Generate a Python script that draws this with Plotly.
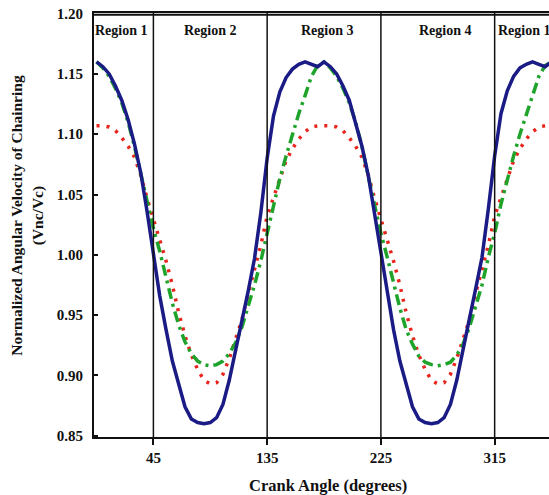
import plotly.graph_objects as go

# Crank angle (degrees), sampled every 5 degrees
angle = list(range(0, 365, 5))

# Normalized angular velocity of chainring (Vnc/Vc)
blue_vals = [
    1.160, 1.156, 1.150, 1.140, 1.128, 1.112, 1.092, 1.068, 1.036, 1.002,
    0.966, 0.938, 0.912, 0.893, 0.874, 0.864, 0.861, 0.860, 0.861, 0.865,
    0.876, 0.896, 0.920, 0.945, 0.970, 0.997, 1.035, 1.080, 1.115, 1.135,
    1.147, 1.154, 1.158, 1.160, 1.158, 1.156, 1.160, 1.156, 1.150, 1.140,
    1.128, 1.110, 1.090, 1.066, 1.034, 1.002, 0.966, 0.938, 0.912, 0.893,
    0.874, 0.864, 0.861, 0.860, 0.861, 0.865, 0.876, 0.896, 0.920, 0.947,
    0.972, 0.998, 1.038, 1.082, 1.117, 1.136, 1.148, 1.155, 1.158, 1.160,
    1.158, 1.156, 1.160,
]
green_vals = [
    1.160, 1.155, 1.148, 1.138, 1.126, 1.110, 1.090, 1.067, 1.043, 1.022,
    1.003, 0.980, 0.960, 0.942, 0.928, 0.918, 0.912, 0.909, 0.908, 0.909,
    0.912, 0.918, 0.927, 0.940, 0.957, 0.975, 0.995, 1.018, 1.042, 1.063,
    1.082, 1.100, 1.117, 1.132, 1.148, 1.157, 1.160, 1.155, 1.148, 1.138,
    1.126, 1.110, 1.090, 1.065, 1.040, 1.018, 0.998, 0.976, 0.956, 0.938,
    0.926, 0.916, 0.911, 0.909, 0.908, 0.909, 0.911, 0.917, 0.926, 0.940,
    0.957, 0.975, 0.998, 1.018, 1.042, 1.063, 1.082, 1.100, 1.117, 1.132,
    1.148, 1.157, 1.160,
]
red_vals = [
    1.107, 1.107, 1.106, 1.103, 1.097, 1.090, 1.081, 1.066, 1.047, 1.030,
    1.011, 0.995, 0.975, 0.952, 0.933, 0.917, 0.905, 0.896, 0.893, 0.894,
    0.901, 0.914, 0.930, 0.946, 0.968, 0.988, 1.008, 1.032, 1.048, 1.062,
    1.078, 1.088, 1.096, 1.102, 1.106, 1.107, 1.107, 1.107, 1.106, 1.103,
    1.097, 1.090, 1.081, 1.066, 1.047, 1.030, 1.011, 0.995, 0.975, 0.952,
    0.933, 0.917, 0.905, 0.896, 0.893, 0.894, 0.901, 0.914, 0.930, 0.946,
    0.968, 0.988, 1.008, 1.032, 1.048, 1.062, 1.078, 1.088, 1.096, 1.102,
    1.106, 1.107, 1.107,
]

region_bounds = [45, 135, 225, 315]
region_names = ["Region 1", "Region 2", "Region 3", "Region 4", "Region 1"]
region_label_x = [20, 90, 183, 276, 339]
y_ticks = [0.85, 0.90, 0.95, 1.00, 1.05, 1.10, 1.15, 1.20]

FONT = "Liberation Serif, Times New Roman, serif"
BLACK = "#111111"

fig = go.Figure()
fig.add_trace(go.Scatter(x=angle, y=red_vals, mode="lines",
                         line=dict(color="#e8251c", width=3.5, dash="3px,7px")))
fig.add_trace(go.Scatter(x=angle, y=green_vals, mode="lines",
                         line=dict(color="#1fa32a", width=3.5, dash="11px,5px,3px,5px")))
fig.add_trace(go.Scatter(x=angle, y=blue_vals, mode="lines",
                         line=dict(color="#1b1b86", width=3.5)))

for b in region_bounds:
    fig.add_shape(type="line", x0=b, x1=b, y0=0, y1=1, xref="x", yref="paper",
                  line=dict(color=BLACK, width=1.5))
# top frame line
fig.add_shape(type="line", x0=0, x1=1, y0=1.199, y1=1.199, xref="paper", yref="y",
              layer="above", line=dict(color=BLACK, width=2))

for name, xpos in zip(region_names, region_label_x):
    fig.add_annotation(x=xpos, y=1.186, text=name, showarrow=False,
                       font=dict(family=FONT, size=14, color=BLACK, weight="bold"))

# axis titles placed by hand
fig.add_annotation(xref="paper", yref="paper", x=0.514, y=-0.115,
                   xanchor="center", yanchor="middle",
                   text="Crank Angle (degrees)", showarrow=False,
                   font=dict(family=FONT, size=16.5, color=BLACK, weight="bold"))
fig.add_annotation(xref="paper", yref="paper", x=-0.147, y=0.522, textangle=-90,
                   xanchor="center", yanchor="middle",
                   text="Normalized Angular Velocity of Chainring<br>(Vnc/Vc)",
                   showarrow=False,
                   font=dict(family=FONT, size=15.5, color=BLACK, weight="bold"))

fig.update_layout(
    width=549, height=495,
    margin=dict(l=94, r=0, t=13, b=58),
    paper_bgcolor="white", plot_bgcolor="white",
    showlegend=False,
    font=dict(family=FONT, color=BLACK),
    xaxis=dict(
        range=[-2, 358], tickvals=region_bounds, ticks="outside", ticklen=6,
        tickwidth=1.5, tickcolor=BLACK, showgrid=False, zeroline=False,
        showline=True, linecolor=BLACK, linewidth=2, mirror=True,
        automargin=False,
        tickfont=dict(family=FONT, size=15, weight="bold"),
    ),
    yaxis=dict(
        range=[0.849, 1.2005], tickvals=y_ticks, tickformat=".2f", ticks="inside",
        ticklen=4, tickwidth=1.5, tickcolor=BLACK, showgrid=False,
        zeroline=False, showline=True, linecolor=BLACK, linewidth=2,
        automargin=False, ticklabelstandoff=6,
        tickfont=dict(family=FONT, size=15, weight="bold"),
    ),
)

# drop the default 8px page margin so the figure sits at the window corner
fig.write_html("out.html", config={"displayModeBar": False},
               post_script="document.body.style.margin='0';")
